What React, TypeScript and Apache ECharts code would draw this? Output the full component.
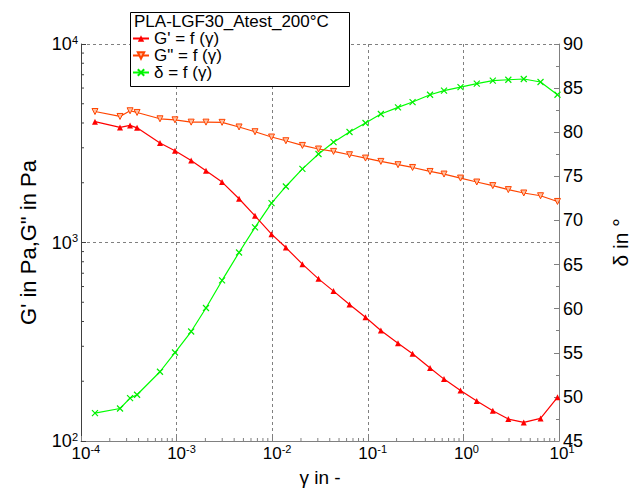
import React, { useEffect, useRef } from 'react';
import * as echarts from 'echarts';

// shear strain γ (-)
const shearStrain = [1.40e-4, 2.56e-4, 3.26e-4, 3.86e-4, 6.70e-4, 9.62e-4, 1.42e-3, 2.03e-3, 2.99e-3, 4.50e-3, 6.61e-3, 9.84e-3, 0.0139, 0.0207, 0.0305, 0.0438, 0.0644, 0.0946, 0.137, 0.207, 0.294, 0.448, 0.627, 0.933, 1.38, 2.03, 2.95, 4.28, 6.41, 9.64];
// G' storage modulus (Pa)
const storageModulus = [4060, 3800, 3890, 3780, 3170, 2900, 2590, 2298, 2016, 1661, 1363, 1102, 943, 778, 656, 569, 487, 420, 360, 311, 275, 233, 205, 179.5, 159, 142, 129, 124, 130, 166];
// G" loss modulus (Pa)
const lossModulus = [4570, 4315, 4610, 4520, 4200, 4150, 4040, 4040, 4030, 3820, 3615, 3400, 3256, 3084, 2958, 2877, 2768, 2663, 2562, 2466, 2388, 2280, 2212, 2112, 2017, 1935, 1847, 1776, 1720, 1610];
// δ phase angle (°)
const phaseAngle = [48.16, 48.68, 49.86, 50.24, 52.85, 55.03, 57.41, 60.07, 63.2, 66.37, 69.21, 71.97, 73.85, 75.84, 77.53, 78.87, 80.02, 81.04, 82.06, 82.81, 83.42, 84.25, 84.71, 85.12, 85.5, 85.84, 85.95, 86.03, 85.69, 84.25];

const seriesNames = ["G' = f (γ)", 'G" = f (γ)', 'δ = f (γ)'];
const legendTitle = 'PLA-LGF30_Atest_200°C';
const xAxisName = 'γ in -';
const yLeftName = 'G\' in Pa,G" in Pa';
const yRightName = 'δ in °';

const FONT = 'Liberation Sans';

export default function App() {
  const ref = useRef<HTMLDivElement>(null);
  useEffect(() => {
    document.body.style.margin = '0';
    const chart = echarts.init(ref.current!, null, { renderer: 'svg' });

    const minorX: number[][] = [];
    for (let e = -4; e < 1; e++) for (let m = 2; m <= 9; m++) minorX.push([m * Math.pow(10, e), 100]);
    const minorY: number[][] = [];
    for (let e = 2; e < 4; e++) for (let m = 2; m <= 9; m++) minorY.push([1e-4, m * Math.pow(10, e)]);

    const expOf = (v: number) => Math.round(Math.log10(v));

    const option: any = {
      animation: false,
      grid: { left: 81, top: 44, width: 478, height: 397, containLabel: false, outerBoundsMode: 'none' },
      legend: {
        data: seriesNames,
        orient: 'vertical',
        left: 132,
        top: 30,
        itemWidth: 16,
        itemHeight: 8,
        itemGap: 0,
        padding: 0,
        z: 30,
        textStyle: { fontSize: 17, fontFamily: FONT, color: '#000', lineHeight: 16.5 },
      },
      graphic: {
        elements: [
          {
            type: 'rect',
            z: 20,
            shape: { x: 130.5, y: 12.5, width: 219, height: 74 },
            style: { fill: '#fff', stroke: '#000', lineWidth: 1 },
          },
          {
            type: 'text',
            z: 21,
            x: 134,
            y: 21,
            style: { text: legendTitle, fontSize: 17, fontFamily: FONT, fill: '#000', verticalAlign: 'middle' },
          },
        ],
      },
      xAxis: {
        type: 'log',
        logBase: 10,
        min: 1e-4,
        max: 10,
        name: xAxisName,
        nameLocation: 'middle',
        nameGap: 27,
        nameTextStyle: { fontSize: 19, fontFamily: FONT, color: '#000' },
        axisLine: { show: true, onZero: false, lineStyle: { color: '#808080', width: 1 } },
        axisTick: { show: true, inside: true, length: 5, lineStyle: { color: '#808080' } },
        splitLine: { show: true, lineStyle: { color: '#808080', type: [3, 3], width: 1 } },
        axisLabel: {
          margin: 2,
          formatter: (v: number) => {
            const e = expOf(v);
            return `{p|${e}}{b|10}{s|${e}}`;
          },
          rich: {
            p: { fontSize: 11, fontFamily: FONT, color: 'transparent', verticalAlign: 'top', lineHeight: 8 },
            b: { fontSize: 17, fontFamily: FONT, color: '#000', lineHeight: 20 },
            s: { fontSize: 11, fontFamily: FONT, color: '#000', verticalAlign: 'top', lineHeight: 8 },
          },
        },
      },
      yAxis: [
        {
          type: 'log',
          logBase: 10,
          min: 100,
          max: 10000,
          position: 'left',
          name: yLeftName,
          nameLocation: 'middle',
          nameRotate: 90,
          nameGap: 42,
          nameTextStyle: { fontSize: 22, fontFamily: FONT, color: '#000', lineHeight: 22 },
          axisLine: { show: true, onZero: false, lineStyle: { color: '#404040', width: 1 } },
          axisTick: { show: true, inside: true, length: 5, lineStyle: { color: '#404040' } },
          splitLine: { show: true, lineStyle: { color: '#808080', type: [3, 3], width: 1 } },
          axisLabel: {
            margin: 3,
            formatter: (v: number) => `{b|10}{s|${expOf(v)}}`,
            rich: {
              b: { fontSize: 18, fontFamily: FONT, color: '#000', lineHeight: 20 },
              s: { fontSize: 11, fontFamily: FONT, color: '#000', verticalAlign: 'top', lineHeight: 8 },
            },
          },
        },
        {
          type: 'value',
          min: 45,
          max: 90,
          interval: 5,
          position: 'right',
          name: yRightName,
          nameLocation: 'middle',
          nameRotate: 90,
          nameGap: 51,
          nameTextStyle: { fontSize: 21, fontFamily: FONT, color: '#000', lineHeight: 20 },
          axisLine: { show: true, onZero: false, lineStyle: { color: '#808080', width: 1 } },
          axisTick: { show: true, inside: true, length: 5, lineStyle: { color: '#808080' } },
          minorTick: { show: true, splitNumber: 2, length: 3, lineStyle: { color: '#808080' } },
          splitLine: { show: false },
          axisLabel: { margin: 4, fontSize: 18, fontFamily: FONT, color: '#000' },
        },
      ],
      series: [
        {
          name: seriesNames[0],
          type: 'line',
          xAxisIndex: 0,
          yAxisIndex: 0,
          data: shearStrain.map((x, i) => [x, storageModulus[i]]),
          symbol: 'triangle',
          symbolSize: 6,
          z: 5,
          lineStyle: { color: '#ff0000', width: 1.2 },
          itemStyle: { color: '#ff0000' },
        },
        {
          name: seriesNames[1],
          type: 'line',
          xAxisIndex: 0,
          yAxisIndex: 0,
          data: shearStrain.map((x, i) => [x, lossModulus[i]]),
          symbol: 'path://M0,0L10,0L5,9Z',
          symbolSize: 6,
          z: 4,
          lineStyle: { color: '#ff4500', width: 1.2 },
          itemStyle: { color: '#ffc0a0', borderColor: '#ff4500', borderWidth: 1 },
        },
        {
          name: seriesNames[2],
          type: 'line',
          xAxisIndex: 0,
          yAxisIndex: 1,
          data: shearStrain.map((x, i) => [x, phaseAngle[i]]),
          symbol: 'path://M0,0L10,10M10,0L0,10',
          symbolSize: 6,
          z: 3,
          lineStyle: { color: '#00ff00', width: 1.2 },
          itemStyle: { color: '#00ff00', borderColor: '#00ee00', borderWidth: 1.2 },
        },
        {
          type: 'custom',
          silent: true,
          xAxisIndex: 0,
          yAxisIndex: 0,
          z: 1,
          data: minorX,
          renderItem: (_p: any, api: any) => {
            const pt = api.coord([api.value(0), api.value(1)]);
            return {
              type: 'line',
              shape: { x1: pt[0], y1: pt[1], x2: pt[0], y2: pt[1] - 3 },
              style: { stroke: '#808080', lineWidth: 1 },
            };
          },
        },
        {
          type: 'custom',
          silent: true,
          xAxisIndex: 0,
          yAxisIndex: 0,
          z: 1,
          data: minorY,
          renderItem: (_p: any, api: any) => {
            const pt = api.coord([api.value(0), api.value(1)]);
            return {
              type: 'line',
              shape: { x1: pt[0], y1: pt[1], x2: pt[0] + 3, y2: pt[1] },
              style: { stroke: '#404040', lineWidth: 1 },
            };
          },
        },
      ],
    };
    chart.setOption(option);
    return () => chart.dispose();
  }, []);
  return <div ref={ref} style={{ width: 631, height: 493 }} />;
}
